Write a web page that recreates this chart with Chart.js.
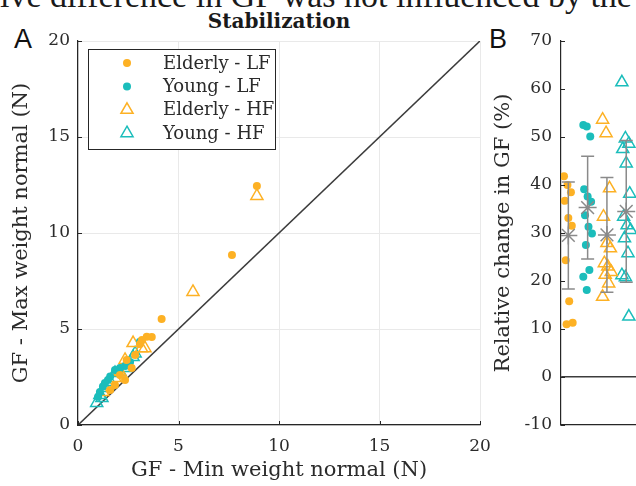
<!DOCTYPE html>
<html>
<head>
<meta charset="utf-8">
<script src="https://cdn.jsdelivr.net/npm/chart.js@4.4.0/dist/chart.umd.min.js"></script>
<style>
  html, body { margin: 0; padding: 0; width: 636px; height: 486px; overflow: hidden; background: #fff; }
  body { position: relative; }
  .abs { position: absolute; white-space: nowrap; }
  #cutText { left: 0; top: -23px; font: 34px "Liberation Serif"; color: #1a1a1a; }
  #title { left: 179px; top: 9px; width: 200px; text-align: center; font: bold 20px "DejaVu Serif"; color: #1a1a1a; }
  .panelLetter { top: 24px; font: 27px "Liberation Sans"; color: #111; }
  #wrapA { left: 0; top: 30px; width: 490px; height: 456px; }
  #wrapB { left: 490px; top: 30px; width: 200px; height: 456px; }
  canvas { display: block; }
</style>
</head>
<body>
<div id="cutText" class="abs">ive difference in GF was not influenced by the</div>
<div id="title" class="abs">Stabilization</div>
<div class="abs panelLetter" style="left:14px">A</div>
<div class="abs panelLetter" style="left:489px">B</div>
<div id="wrapA" class="abs"><canvas id="chartA" width="490" height="456"></canvas></div>
<div id="wrapB" class="abs"><canvas id="chartB" width="200" height="456"></canvas></div>

<script>
// Panel A - GF at min weight vs GF at max weight (N)
const elderlyLF_min = [8.9, 7.66, 4.16, 3.67, 3.42, 3.18, 3.08, 2.84, 2.42, 2.67, 2.34, 2.09, 1.84, 1.6];
const elderlyLF_max = [12.45, 8.85, 5.52, 4.58, 4.6, 4.43, 4.22, 3.65, 3.39, 2.97, 2.34, 2.6, 2.08, 1.82];
const youngLF_min = [3.08, 2.59, 2.34, 2.09, 1.84, 1.6, 1.49, 1.34, 1.24, 1.09, 1.0];
const youngLF_max = [4.34, 3.28, 3.07, 2.97, 2.86, 2.52, 2.34, 2.19, 2.0, 1.72, 1.47];
const elderlyHF_min = [8.9, 5.72, 2.74, 3.33, 3.16, 2.49, 2.34, 2.09, 1.84, 1.49, 1.24];
const elderlyHF_max = [11.93, 6.93, 4.27, 4.0, 4.0, 3.13, 3.39, 2.76, 2.45, 2.08, 1.72];
const youngHF_min = [2.84, 2.74, 2.34, 2.09, 1.84, 1.6, 1.34, 1.19, 1.09, 0.93];
const youngHF_max = [3.73, 3.54, 2.97, 2.76, 2.71, 2.24, 1.93, 1.41, 1.56, 1.15];
const ticksA = [0, 5, 10, 15, 20];

// Panel B - relative change in GF (%)
const groupNames = ['Elderly - LF', 'Young - LF', 'Elderly - HF', 'Young - HF'];
const elderlyLF_change = [41.8, 40.0, 38.5, 36.7, 33.1, 31.5, 24.3, 15.8, 11.3, 11.0];
const youngLF_change = [52.5, 52.2, 50.1, 39.1, 37.6, 36.5, 33.7, 31.3, 29.9, 27.5, 22.3, 20.9, 18.1];
const elderlyHF_change = [53.6, 50.8, 39.3, 33.4, 27.9, 26.8, 23.7, 23.0, 21.9, 21.3, 19.5, 16.7];
const youngHF_change = [61.4, 49.7, 48.6, 47.5, 44.5, 38.2, 33.4, 31.6, 30.6, 28.9, 25.8, 21.2, 20.8, 12.6];
const groupMeans = [29.5, 35.3, 29.6, 34.5];
const groupSD = [11.15, 10.7, 11.95, 14.75];
const ticksB = [-10, 0, 10, 20, 30, 40, 50, 60, 70];

const ORANGE = '#FDB124';
const TEAL = '#1BBDBB';
const SERIF = '"DejaVu Serif"';
const TEXT = '#2b2b2b';
const AXIS = '#262626';

function pairs(xs, ys) {
    return xs.map((x, i) => ({ x: x, y: ys[i] }));
}

// small spread so overlapping points of a group stay visible
function jitter(i) {
    return ((i * 37) % 11 - 5) * 0.045;
}

function groupPoints(values, groupIndex) {
    return values.map((v, i) => ({ x: groupIndex + 1 + jitter(i), y: v }));
}

// tick marks drawn inside the axes, like the original figure
const innerTicks = {
    id: 'innerTicks',
    afterDraw(chart, args, opts) {
        const { ctx, chartArea: a } = chart;
        ctx.save();
        ctx.strokeStyle = AXIS;
        ctx.lineWidth = 1;
        ctx.beginPath();
        (opts.x || []).forEach(v => {
            const px = Math.round(chart.scales.x.getPixelForValue(v)) + 0.5;
            ctx.moveTo(px, a.bottom);
            ctx.lineTo(px, a.bottom - 4);
        });
        (opts.y || []).forEach(v => {
            const py = Math.round(chart.scales.y.getPixelForValue(v)) + 0.5;
            ctx.moveTo(a.left, py);
            ctx.lineTo(a.left + 4, py);
        });
        ctx.stroke();
        ctx.restore();
    }
};

function drawMarker(ctx, style, color, x, y) {
    ctx.beginPath();
    if (style === 'circle') {
        ctx.fillStyle = color;
        ctx.arc(x, y, 4, 0, Math.PI * 2);
        ctx.fill();
    } else {
        const r = 7;
        ctx.strokeStyle = color;
        ctx.lineWidth = 1.5;
        for (let k = 0; k < 3; k++) {
            const ang = k * 2 * Math.PI / 3;
            const px = x + Math.sin(ang) * r, py = y - Math.cos(ang) * r;
            if (k === 0) ctx.moveTo(px, py); else ctx.lineTo(px, py);
        }
        ctx.closePath();
        ctx.stroke();
    }
}

// legend box inside panel A
const boxLegend = {
    id: 'boxLegend',
    afterDatasetsDraw(chart) {
        const { ctx, chartArea: a } = chart;
        const items = chart.data.datasets.filter(d => d.inLegend);
        const left = a.left + 10, top = a.top + 8, w = 187, h = 100;
        ctx.save();
        ctx.fillStyle = '#fff';
        ctx.fillRect(left, top, w, h);
        ctx.strokeStyle = AXIS;
        ctx.lineWidth = 1;
        ctx.strokeRect(left + 0.5, top + 0.5, w, h);
        ctx.font = '18px ' + SERIF;
        ctx.textBaseline = 'middle';
        items.forEach((d, i) => {
            const y = top + 14 + i * 23.4;
            drawMarker(ctx, d.pointStyle, d.pointStyle === 'circle' ? d.backgroundColor : d.borderColor, left + 39, y);
            ctx.fillStyle = TEXT;
            ctx.fillText(d.label, left + 75, y + 1);
        });
        ctx.restore();
    }
};

// mean +/- SD error bars for panel B
const errorBars = {
    id: 'errorBars',
    afterDatasetsDraw(chart) {
        const { ctx } = chart;
        const xs = chart.scales.x, ys = chart.scales.y;
        ctx.save();
        ctx.strokeStyle = '#8a8a8a';
        ctx.lineWidth = 1.5;
        groupMeans.forEach((m, i) => {
            const px = xs.getPixelForValue(i + 1);
            const hi = ys.getPixelForValue(m + groupSD[i]);
            const lo = ys.getPixelForValue(m - groupSD[i]);
            ctx.beginPath();
            ctx.moveTo(px, hi); ctx.lineTo(px, lo);
            ctx.moveTo(px - 6.5, hi); ctx.lineTo(px + 6.5, hi);
            ctx.moveTo(px - 6.5, lo); ctx.lineTo(px + 6.5, lo);
            ctx.stroke();
        });
        ctx.restore();
    }
};

function scatterSet(label, pts, color, style) {
    const filled = style === 'circle';
    return {
        type: 'scatter',
        label: label,
        inLegend: true,
        data: pts,
        pointStyle: style,
        pointRadius: filled ? 4 : 7,
        pointHoverRadius: filled ? 4 : 7,
        backgroundColor: filled ? color : 'transparent',
        borderColor: color,
        borderWidth: filled ? 0 : 1.5
    };
}

function fixedTicks(list) {
    return function (scale) {
        scale.ticks = list.map(v => ({ value: v }));
    };
}

// pin the axis box size and drop the label overhang padding Chart.js adds
function pinSize(prop, size) {
    return function (s) {
        s[prop] = size;
        s.paddingTop = 0; s.paddingBottom = 0; s.paddingLeft = 0; s.paddingRight = 0;
    };
}

Chart.defaults.font.family = SERIF;
Chart.defaults.color = TEXT;

new Chart(document.getElementById('chartA'), {
    data: {
        datasets: [
            {
                type: 'line',
                label: 'identity',
                data: [{ x: 0, y: 0 }, { x: 20, y: 20 }],
                borderColor: '#3c3c3c',
                borderWidth: 1.6,
                pointRadius: 0,
                order: 10
            },
            scatterSet('Elderly - LF', pairs(elderlyLF_min, elderlyLF_max), ORANGE, 'circle'),
            scatterSet('Young - LF', pairs(youngLF_min, youngLF_max), TEAL, 'circle'),
            scatterSet('Elderly - HF', pairs(elderlyHF_min, elderlyHF_max), ORANGE, 'triangle'),
            scatterSet('Young - HF', pairs(youngHF_min, youngHF_max), TEAL, 'triangle')
        ]
    },
    options: {
        responsive: false,
        animation: false,
        events: [],
        layout: { padding: { top: 11, right: 10, left: 0, bottom: 0 } },
        plugins: { legend: { display: false }, tooltip: { enabled: false }, innerTicks: { x: ticksA, y: ticksA } },
        scales: {
            x: {
                type: 'linear', min: 0, max: 20,
                afterBuildTicks: fixedTicks(ticksA),
                afterFit: pinSize('height', 61),
                grid: { color: '#e9e9e9', drawTicks: false },
                border: { color: AXIS, width: 1.2 },
                ticks: { font: { size: 17 }, color: TEXT, padding: 11, maxRotation: 0 },
                title: { display: true, text: 'GF - Min weight normal (N)', font: { size: 21 }, color: TEXT, padding: { top: 0, bottom: 3 } }
            },
            y: {
                type: 'linear', min: 0, max: 20,
                afterBuildTicks: fixedTicks(ticksA),
                afterFit: pinSize('width', 78),
                grid: { color: '#e9e9e9', drawTicks: false },
                border: { color: AXIS, width: 1.2 },
                ticks: { font: { size: 17 }, color: TEXT, padding: 8 },
                title: { display: true, text: 'GF - Max weight normal (N)', font: { size: 21 }, color: TEXT, padding: { top: 9, bottom: 0 } }
            }
        }
    },
    plugins: [innerTicks, boxLegend]
});

new Chart(document.getElementById('chartB'), {
    data: {
        datasets: [
            scatterSet(groupNames[0], groupPoints(elderlyLF_change, 0), ORANGE, 'circle'),
            scatterSet(groupNames[1], groupPoints(youngLF_change, 1), TEAL, 'circle'),
            scatterSet(groupNames[2], groupPoints(elderlyHF_change, 2), ORANGE, 'triangle'),
            scatterSet(groupNames[3], groupPoints(youngHF_change, 3), TEAL, 'triangle'),
            {
                type: 'scatter',
                label: 'mean',
                data: groupMeans.map((m, i) => ({ x: i + 1, y: m })),
                pointStyle: 'star',
                pointRadius: 9,
                borderColor: '#8a8a8a',
                backgroundColor: '#8a8a8a',
                borderWidth: 1.5,
                order: -1
            }
        ]
    },
    options: {
        responsive: false,
        animation: false,
        events: [],
        layout: { padding: { top: 11, right: 0, left: 0, bottom: 0 } },
        plugins: { legend: { display: false }, tooltip: { enabled: false }, innerTicks: { y: ticksB } },
        scales: {
            x: {
                type: 'linear', min: 0.62, max: 6.76,
                afterFit: pinSize('height', 61),
                grid: { display: false, drawTicks: false },
                border: { color: AXIS, width: 1.2 },
                ticks: { display: false }
            },
            y: {
                type: 'linear', min: -10, max: 70,
                afterBuildTicks: fixedTicks(ticksB),
                afterFit: pinSize('width', 71),
                grid: {
                    drawTicks: false,
                    lineWidth: 1.4,
                    color: c => (c.tick && c.tick.value === 0 ? '#3c3c3c' : 'rgba(0,0,0,0)')
                },
                border: { color: AXIS, width: 1.2 },
                ticks: { font: { size: 17 }, color: TEXT, padding: 9 },
                title: { display: true, text: 'Relative change in GF (%)', font: { size: 21 }, color: TEXT, padding: { top: 1, bottom: 0 } }
            }
        }
    },
    plugins: [innerTicks, errorBars]
});
</script>
</body>
</html>
